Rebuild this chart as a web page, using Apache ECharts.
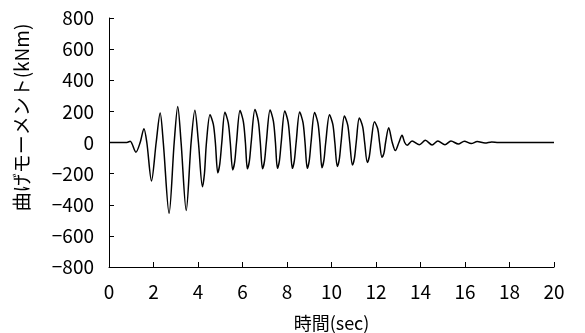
<!DOCTYPE html>
<html>
<head>
<meta charset="utf-8">
<script src="https://cdn.jsdelivr.net/npm/echarts@6/dist/echarts.min.js"></script>
<style>
html, body { margin: 0; padding: 0; background: #fff; }
#chart { width: 585px; height: 333px; }
</style>
</head>
<body>
<div id="chart"></div>
<script>
// 時間(sec) と 曲げモーメント(kNm) (peaks, troughs, shoulders, crossings)
const times = [
  0, 0.8, 0.95, 1.21, 1.40, 1.57, 1.70, 1.91, 2.12, 2.30, 2.44, 2.70, 2.93, 3.09, 3.24, 3.47,
  3.69, 3.86, 4.02, 4.20, 4.29, 4.38, 4.54, 4.69, 4.78, 4.89, 4.98, 5.07,
  5.21, 5.36, 5.45, 5.56, 5.65, 5.73, 5.89, 6.04, 6.13, 6.22, 6.31, 6.39,
  6.56, 6.71, 6.80, 6.90, 6.99, 7.07, 7.24, 7.39, 7.48, 7.57, 7.66, 7.74,
  7.90, 8.05, 8.14, 8.24, 8.33, 8.41, 8.57, 8.72, 8.81, 8.91, 9.00, 9.08,
  9.24, 9.39, 9.48, 9.57, 9.66, 9.74, 9.91, 10.06, 10.15, 10.26, 10.35, 10.43,
  10.58, 10.73, 10.82, 10.94, 11.03, 11.11, 11.25, 11.40, 11.49, 11.61, 11.70, 11.78,
  11.93, 12.08, 12.16, 12.27, 12.36, 12.43, 12.57, 12.73, 12.87, 13.03, 13.17, 13.29,
  13.40, 13.62, 13.95, 14.22, 14.52, 14.78, 15.10, 15.37, 15.70, 15.97, 16.28, 16.55,
  16.90, 17.20, 17.50, 20
];
const moments = [
  0, 0, 8, -62, 0, 89, 0, -247, 0, 189, 0, -455, 0, 232, 0, -437,
  0, 207, 0, -284, -199, 0, 179, 116, 0, -195, -137, 0,
  194, 126, 0, -176, -123, 0, 205, 133, 0, -169, -118, 0,
  212, 138, 0, -169, -118, 0, 209, 136, 0, -166, -116, 0,
  202, 131, 0, -166, -116, 0, 196, 127, 0, -166, -116, 0,
  192, 125, 0, -162, -113, 0, 179, 116, 0, -155, -109, 0,
  170, 111, 0, -145, -102, 0, 157, 102, 0, -128, -90, 0,
  134, 87, 0, -95, -67, 0, 95, 0, -52, 0, 46, 0,
  -18, 10, -14, 14, -16, 10, -14, 10, -10, 8, -7, 6,
  -4, 3, 0, 0
];
const xTicks = [0, 20, 2];
const yTicks = [-800, 800, 200];

const chart = echarts.init(document.getElementById('chart'));
const font = '"Noto Sans CJK JP", "Liberation Sans", sans-serif';

const option = {
  animation: false,
  grid: { left: 109, right: 31, top: 18, bottom: 66, outerBoundsMode: 'none', containLabel: false },
  xAxis: {
    type: 'value',
    min: xTicks[0], max: xTicks[1], interval: xTicks[2],
    name: '時間(sec)',
    nameLocation: 'middle',
    nameGap: 47,
    nameTextStyle: { color: '#000', fontSize: 18, fontFamily: font },
    axisLine: { onZero: false, lineStyle: { color: '#000', width: 1 } },
    axisTick: { inside: true, length: 5, lineStyle: { color: '#000' } },
    axisLabel: { color: '#000', fontSize: 19, fontFamily: font, margin: 15 },
    splitLine: { show: false }
  },
  yAxis: {
    type: 'value',
    min: yTicks[0], max: yTicks[1], interval: yTicks[2],
    name: '曲げモーメント(kNm)',
    nameLocation: 'middle',
    nameGap: 78,
    nameTextStyle: { color: '#000', fontSize: 19, fontFamily: font, padding: [0, 0, 0, 50] },
    axisLine: { show: true, lineStyle: { color: '#000', width: 1 } },
    axisTick: { show: true, inside: true, length: 5, lineStyle: { color: '#000' } },
    axisLabel: {
      color: '#000', fontSize: 19, fontFamily: font, margin: 15,
      formatter: v => String(v).replace('-', '\u2212')
    },
    splitLine: { show: false }
  },
  series: [{
    type: 'line',
    data: times.map((t, i) => [t, moments[i]]),
    smooth: 0.3,
    showSymbol: false,
    lineStyle: { color: '#000', width: 1.5 }
  }]
};
chart.setOption(option);
</script>
</body>
</html>
